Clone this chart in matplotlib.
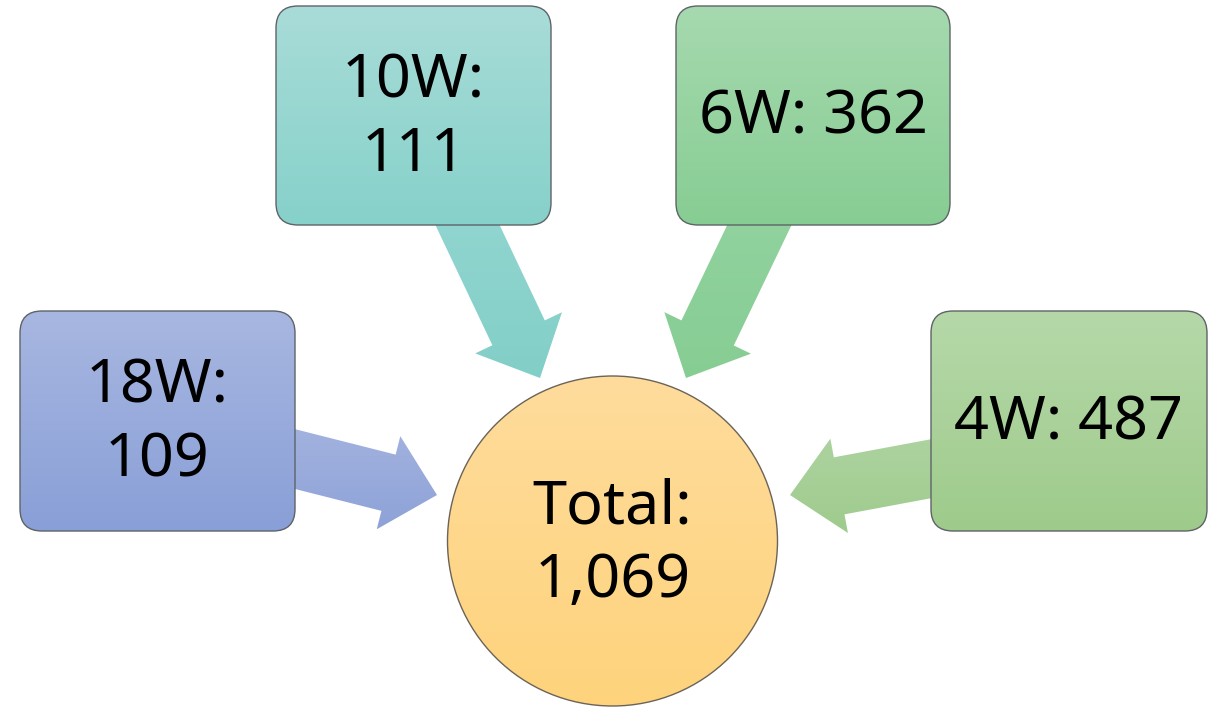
import numpy as np
import matplotlib
matplotlib.use("Agg")
import matplotlib.pyplot as plt
from matplotlib.patches import FancyBboxPatch, Circle, Polygon
from matplotlib.colors import to_rgb

# DATA
labels = ["18W", "10W", "6W", "4W"]
counts = [109, 111, 362, 487]
total = sum(counts)

# LAYOUT (pixel coordinates, y down)
W, H = 1217, 708
boxes = [(20, 311, 275, 220), (276, 6, 275, 219), (676, 6, 274, 219), (931, 311, 276, 220)]
arrow_tails = [(275, 454), (458, 205), (769, 205), (951, 465)]
arrow_tips = [(437, 495), (540, 378), (686, 378), (790, 495)]
box_colors = [("#A8B7E1", "#899FD7"), ("#A9DCD8", "#86D1CA"),
              ("#A6D9AF", "#87CD93"), ("#B6D8A9", "#9ECB8B")]
arrow_colors = [("#A3B3DF", "#8EA2D8"), ("#93D6D0", "#82CFC8"),
                ("#93D3A0", "#86CD93"), ("#ADD3A0", "#9FCB8D")]
circle_center = (612.5, 541)
circle_radius = 165
circle_colors = ("#FEDC9C", "#FED37C")

plt.rcParams["font.family"] = ["Noto Sans", "DejaVu Sans"]


def gradient_fill(ax, patch, top, bottom, extent):
    x0, y0, x1, y1 = extent
    c0, c1 = np.array(to_rgb(top)), np.array(to_rgb(bottom))
    t = np.linspace(0, 1, 256)[:, None, None]
    img = c0 * (1 - t) + c1 * t
    im = ax.imshow(img, extent=(x0, x1, y1, y0), origin="upper",
                   aspect="auto", interpolation="bilinear", zorder=patch.get_zorder())
    im.set_clip_path(patch)


def arrow_polygon(tail, tip, shaft_w=58, head_w=96, head_len=50):
    tail, tip = np.array(tail, float), np.array(tip, float)
    d = tip - tail
    d /= np.hypot(*d)
    n = np.array([-d[1], d[0]])
    base = tip - d * head_len
    return [tail + n * shaft_w / 2, base + n * shaft_w / 2, base + n * head_w / 2, tip,
            base - n * head_w / 2, base - n * shaft_w / 2, tail - n * shaft_w / 2]


fig = plt.figure(figsize=(W / 100, H / 100), dpi=100)
ax = fig.add_axes([0, 0, 1, 1])
ax.set_xlim(0, W)
ax.set_ylim(H, 0)
ax.axis("off")

# arrows (under the boxes)
for tail, tip, (c_top, c_bot) in zip(arrow_tails, arrow_tips, arrow_colors):
    pts = np.array(arrow_polygon(tail, tip))
    poly = Polygon(pts, closed=True, facecolor="none", edgecolor="none", zorder=1)
    ax.add_patch(poly)
    gradient_fill(ax, poly, c_top, c_bot,
                  (pts[:, 0].min(), pts[:, 1].min(), pts[:, 0].max(), pts[:, 1].max()))

# boxes with labels
for (x, y, w, h), (c_top, c_bot), label, count in zip(boxes, box_colors, labels, counts):
    box = FancyBboxPatch((x, y), w, h, boxstyle="round,pad=0,rounding_size=22",
                         facecolor="none", edgecolor="none", zorder=2)
    ax.add_patch(box)
    gradient_fill(ax, box, c_top, c_bot, (x, y, x + w, y + h))
    ax.add_patch(FancyBboxPatch((x, y), w, h, boxstyle="round,pad=0,rounding_size=22",
                                facecolor="none", edgecolor="#5E6367", lw=1.0, zorder=3))
    # longer labels wrap onto two lines, as in the original diagram
    text = f"{label}:\n{count}" if len(label) > 2 else f"{label}: {count}"
    ax.text(x + w / 2, y + h / 2 + 3, text, ha="center", va="center",
            fontsize=44, color="black", linespacing=1.27, zorder=4)

# centre circle
circ = Circle(circle_center, circle_radius, facecolor="none", edgecolor="none", zorder=2)
ax.add_patch(circ)
cx, cy = circle_center
gradient_fill(ax, circ, circle_colors[0], circle_colors[1],
              (cx - circle_radius, cy - circle_radius, cx + circle_radius, cy + circle_radius))
ax.add_patch(Circle(circle_center, circle_radius, facecolor="none",
                    edgecolor="#6B6357", lw=1.0, zorder=3))
ax.text(cx, cy + 4, f"Total:\n{total:,}", ha="center", va="center",
        fontsize=44, color="black", linespacing=1.27, zorder=4)

fig.savefig("out.png", dpi=100)
